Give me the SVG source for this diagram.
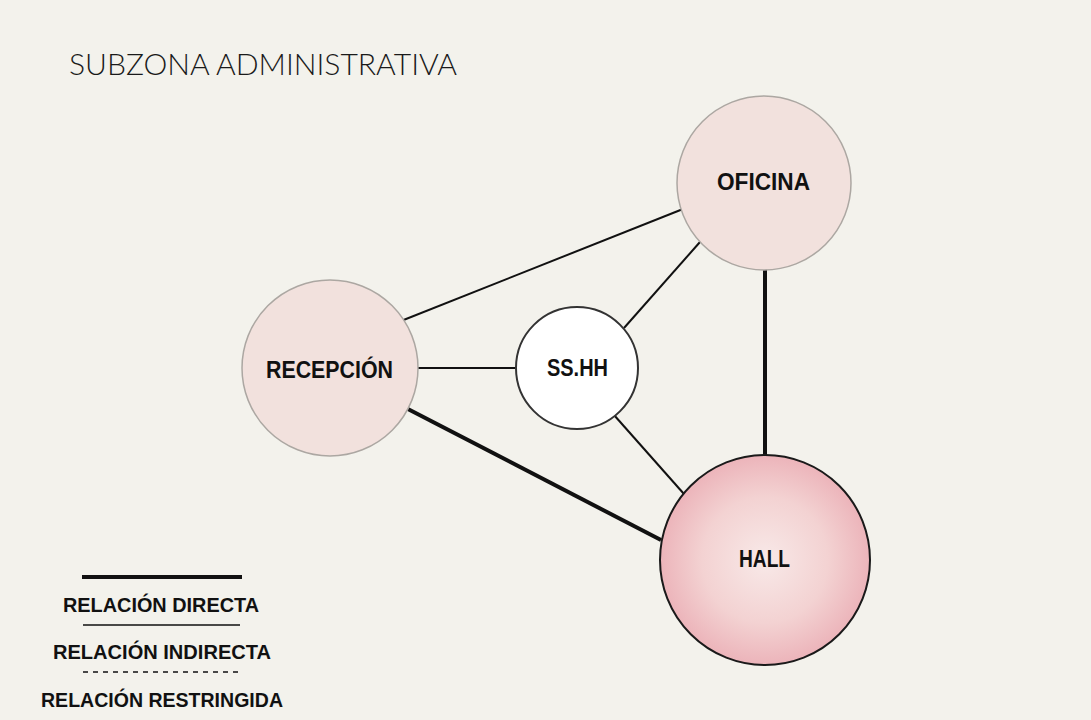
<svg xmlns="http://www.w3.org/2000/svg" width="1091" height="720" viewBox="0 0 1091 720">
<defs>
<radialGradient id="hallGrad" cx="50%" cy="50%" r="50%">
<stop offset="0" stop-color="#f8e9e8"/>
<stop offset="0.6" stop-color="#f3d2d2"/>
<stop offset="1" stop-color="#ecb4ba"/>
</radialGradient>
</defs>
<style>
.bg{fill:#f3f2ec}
.node{fill:#f2e1dd;stroke:#aca7a2;stroke-width:1.5}
.ss{fill:#ffffff;stroke:#333;stroke-width:2}
.hall{fill:url(#hallGrad);stroke:#1a1a1a;stroke-width:2}
.lbl{font-family:"Liberation Sans",Arial,sans-serif;font-weight:bold;font-size:23.5px;fill:#111}
.leg{font-family:"Liberation Sans",Arial,sans-serif;font-weight:bold;font-size:21px;fill:#111}
.title{font-family:Lato,"Liberation Sans",sans-serif;font-weight:300;font-size:30px;fill:#1a1a1a}
.thin{stroke:#111;stroke-width:2;fill:none}
.thick{stroke:#111;stroke-width:4;fill:none}
.dash{stroke:#111;stroke-width:1.5;stroke-dasharray:5,5;fill:none}
</style>
<rect class="bg" x="0" y="0" width="1091" height="720"/>
<text class="title" x="69" y="75" textLength="388" lengthAdjust="spacingAndGlyphs">SUBZONA ADMINISTRATIVA</text>
<g id="connectors">
<line class="thin" x1="401" y1="321" x2="683" y2="209"/>
<line class="thin" x1="418" y1="368" x2="515" y2="368"/>
<line class="thin" x1="624" y1="328" x2="700" y2="242"/>
<line class="thin" x1="614" y1="415" x2="684" y2="494"/>
<line class="thick" x1="404" y1="407" x2="661" y2="540"/>
<line class="thick" x1="765" y1="268" x2="765" y2="455"/>
</g>
<g id="oficina">
<circle class="node" cx="764" cy="183" r="87"/>
<text class="lbl" x="717" y="190" textLength="93" lengthAdjust="spacingAndGlyphs">OFICINA</text>
</g>
<g id="recepcion">
<circle class="node" cx="330" cy="368" r="88"/>
<text class="lbl" x="266" y="378" textLength="127" lengthAdjust="spacingAndGlyphs">RECEPCIÓN</text>
</g>
<g id="sshh">
<circle class="ss" cx="577" cy="368" r="61"/>
<text class="lbl" x="547" y="376" textLength="61" lengthAdjust="spacingAndGlyphs">SS.HH</text>
</g>
<g id="hall">
<circle class="hall" cx="765" cy="560" r="105"/>
<text class="lbl" x="739" y="567" textLength="51" lengthAdjust="spacingAndGlyphs">HALL</text>
</g>
<g id="legend">
<line class="thick" x1="82" y1="577" x2="242" y2="577"/>
<text class="leg" x="63" y="612" textLength="196" lengthAdjust="spacingAndGlyphs">RELACIÓN DIRECTA</text>
<line class="thin" x1="83" y1="625" x2="240" y2="625" style="stroke-width:1.5"/>
<text class="leg" x="53" y="659" textLength="218" lengthAdjust="spacingAndGlyphs">RELACIÓN INDIRECTA</text>
<line class="dash" x1="83" y1="672" x2="243" y2="672"/>
<text class="leg" x="41" y="707" textLength="242" lengthAdjust="spacingAndGlyphs">RELACIÓN RESTRINGIDA</text>
</g>
</svg>
